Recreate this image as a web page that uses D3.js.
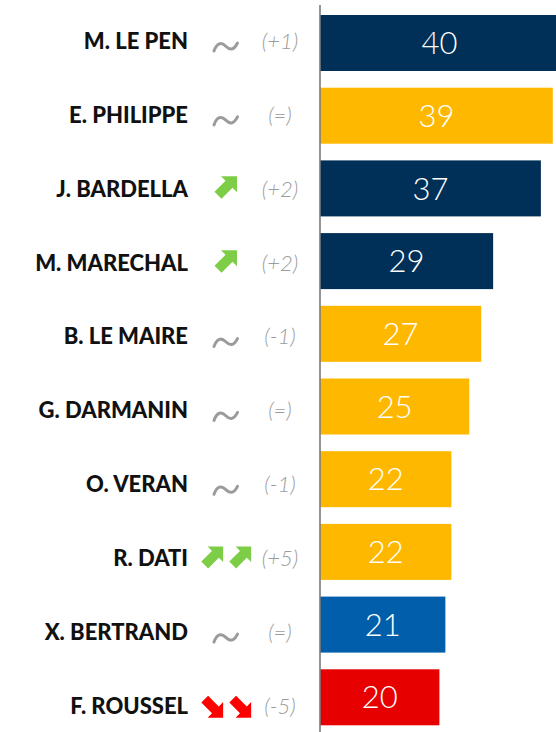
<!DOCTYPE html>
<html>
<head>
<meta charset="utf-8">
<script src="https://cdn.jsdelivr.net/npm/d3@7"></script>
<style>
  html, body { margin: 0; padding: 0; background: #fff; }
</style>
</head>
<body>
<div id="chart"></div>
<script>
const width = 556;
const height = 732;

// data
const names = ["M. LE PEN", "E. PHILIPPE", "J. BARDELLA", "M. MARECHAL", "B. LE MAIRE",
  "G. DARMANIN", "O. VERAN", "R. DATI", "X. BERTRAND", "F. ROUSSEL"];
const scores = [40, 39, 37, 29, 27, 25, 22, 22, 21, 20];
const groups = ["RN", "ENS", "RN", "REC", "ENS", "ENS", "ENS", "ENS", "LR", "PCF"];
const trends = ["flat", "flat", "up", "up", "flat", "flat", "flat", "upup", "flat", "downdown"];
const changes = ["(+1)", "(=)", "(+2)", "(+2)", "(-1)", "(=)", "(-1)", "(+5)", "(=)", "(-5)"];

const groupColor = d3.scaleOrdinal()
    .domain(["RN", "REC", "ENS", "LR", "PCF"])
    .range(["#003057", "#003057", "#FFB800", "#005EAA", "#E60000"]);

const svg = d3.select("#chart")
    .append("svg")
    .attr("width", width)
    .attr("height", height);

const x = d3.scaleLinear().domain([0, 40]).range([320, 558.8]);

// bars band
const y = d3.scaleBand()
    .domain(names)
    .range([15 - 8.35, 15 - 8.35 + 72.7 * 10])
    .paddingInner(16.7 / 72.7)
    .paddingOuter(8.35 / 72.7);

// label rows are a touch more spread than the bars
const yLab = d3.scalePoint()
    .domain(names)
    .range([41, 706]);

const rows = names.map((n, i) => ({
  name: n, score: scores[i], group: groups[i], trend: trends[i], change: changes[i]
}));

svg.selectAll(".bar")
  .data(rows)
  .join("rect")
    .attr("class", "bar")
    .attr("x", x(0))
    .attr("y", d => y(d.name))
    .attr("width", d => x(d.score) - x(0))
    .attr("height", y.bandwidth())
    .attr("fill", d => groupColor(d.group));

svg.selectAll(".val")
  .data(rows)
  .join("text")
    .attr("class", "val")
    .attr("x", d => (x(0) + x(d.score)) / 2)
    .attr("y", d => y(d.name) + y.bandwidth() / 2)
    .attr("dy", "0.36em")
    .attr("text-anchor", "middle")
    .style("font-family", "Lato, sans-serif")
    .style("font-weight", "300")
    .style("font-size", "31px")
    .style("fill", "#fff")
    .text(d => d.score);

// axis line
svg.append("line")
    .attr("x1", x(0)).attr("x2", x(0))
    .attr("y1", 5).attr("y2", height)
    .attr("stroke", "#7a7a7a")
    .attr("stroke-width", 1.6);

// names
svg.selectAll(".name")
  .data(rows)
  .join("text")
    .attr("class", "name")
    .attr("x", 188)
    .attr("y", d => yLab(d.name))
    .attr("dy", "0.36em")
    .attr("text-anchor", "end")
    .style("font-family", "Lato, sans-serif")
    .style("font-weight", "900")
    .style("font-size", "22px")
    .style("fill", "#111")
    .text(d => d.name);

// change in ranking
svg.selectAll(".chg")
  .data(rows)
  .join("text")
    .attr("class", "chg")
    .attr("x", 280)
    .attr("y", d => yLab(d.name))
    .attr("dy", "0.36em")
    .attr("text-anchor", "middle")
    .style("font-family", "Lato, sans-serif")
    .style("font-weight", "300")
    .style("font-style", "italic")
    .style("font-size", "22px")
    .style("fill", "#9c9c9c")
    .text(d => d.change);

// trend symbols: block arrow pointing up-right, centred on 0,0
const arrowPath = "M-4,-12 L12,-12 L12,4 L7.5,-0.5 L-3.5,10.5 L-10.5,3.5 L0.5,-7.5 Z";

function drawArrow(g, cx, cy, up, color, s) {
  g.append("path")
    .attr("d", arrowPath)
    .attr("transform", `translate(${cx},${cy}) scale(${s},${up ? s : -s})`)
    .attr("fill", color);
}

const sym = svg.selectAll(".sym")
  .data(rows)
  .join("g")
    .attr("class", "sym")
    .attr("transform", d => `translate(0,${yLab(d.name)})`);

sym.each(function(d) {
  const g = d3.select(this);
  if (d.trend === "flat") {
    g.append("path")
      .attr("d", "M214,10 C217,1.5 221.5,1 225.5,5 C229.5,9 233.5,10 237.5,2")
      .attr("fill", "none")
      .attr("stroke", "#9b9b9b")
      .attr("stroke-width", 3)
      .attr("stroke-linecap", "round");
  } else if (d.trend === "up") {
    drawArrow(g, 225, -0.5, true, "#7DCE46", 1);
  } else if (d.trend === "upup") {
    drawArrow(g, 211.5, 0, true, "#7DCE46", 0.97);
    drawArrow(g, 239.5, 0, true, "#7DCE46", 0.97);
  } else if (d.trend === "downdown") {
    drawArrow(g, 211.5, 0, false, "#FF0000", 0.97);
    drawArrow(g, 239.5, 0, false, "#FF0000", 0.97);
  }
});
</script>
</body>
</html>
